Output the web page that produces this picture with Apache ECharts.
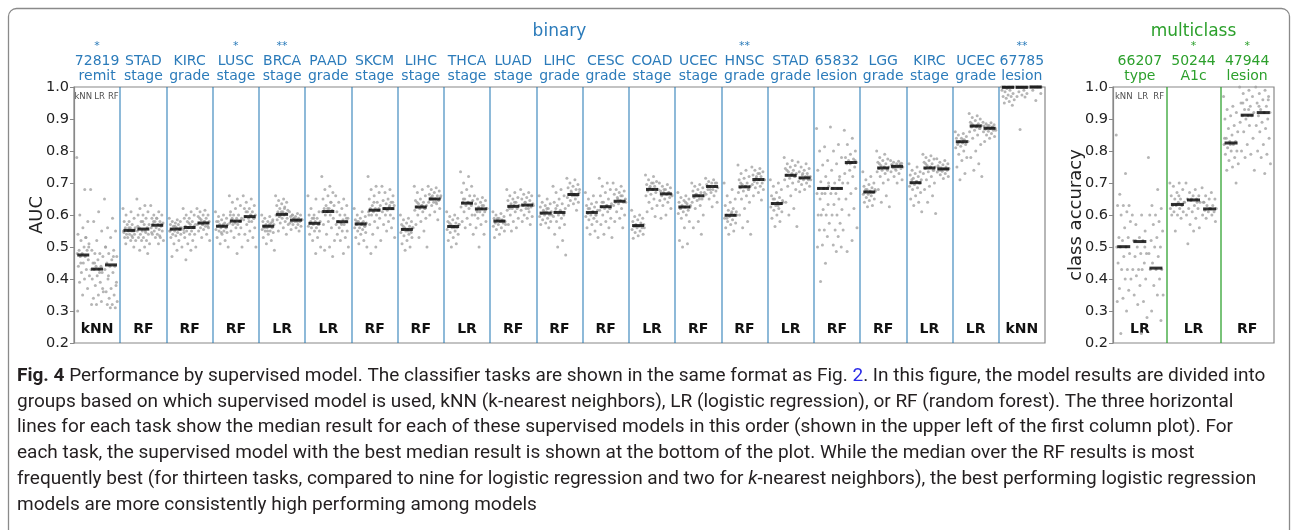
<!DOCTYPE html>
<html><head><meta charset="utf-8">
<script src="https://cdn.jsdelivr.net/npm/echarts@6/dist/echarts.min.js"></script>
<style>html,body{margin:0;padding:0;background:#fff}#c{width:1293px;height:530px}</style>
</head><body><div id="c"></div>
<script>
// ---------- DATA ----------
const binaryTop = ['72819','STAD','KIRC','LUSC','BRCA','PAAD','SKCM','LIHC','THCA','LUAD','LIHC','CESC','COAD','UCEC','HNSC','STAD','65832','LGG','KIRC','UCEC','67785'];
const binaryBottom = ['remit','stage','grade','stage','stage','grade','stage','stage','stage','stage','grade','grade','stage','stage','grade','grade','lesion','grade','stage','grade','lesion'];
const binaryStars = ['*','','','*','**','','','','','','','','','','**','','','','','','**'];
const binaryBest = ['kNN','RF','RF','RF','LR','LR','RF','RF','LR','RF','RF','RF','LR','RF','RF','LR','RF','RF','LR','LR','kNN'];

const binaryMedKNN = [0.475,0.552,0.556,0.565,0.565,0.574,0.572,0.555,0.564,0.581,0.606,0.608,0.567,0.625,0.599,0.636,0.683,0.672,0.701,0.829,0.999];
const binaryMedLR  = [0.431,0.556,0.561,0.581,0.602,0.611,0.615,0.625,0.637,0.627,0.608,0.626,0.680,0.660,0.688,0.724,0.683,0.747,0.747,0.878,0.999];
const binaryMedRF  = [0.444,0.568,0.575,0.595,0.584,0.579,0.620,0.650,0.619,0.631,0.664,0.643,0.666,0.689,0.711,0.716,0.764,0.752,0.744,0.871,1.000];

const binaryKNN = [
[0.78,0.68,0.60,0.58,0.56,0.54,0.53,0.52,0.51,0.50,0.49,0.49,0.48,0.48,0.47,0.47,0.46,0.45,0.44,0.43,0.42,0.41,0.40,0.39,0.37,0.35,0.30,0.53,0.45,0.50],
[0.62,0.61,0.60,0.59,0.58,0.58,0.57,0.57,0.56,0.56,0.56,0.55,0.55,0.55,0.55,0.54,0.54,0.54,0.53,0.53,0.53,0.52,0.52,0.51,0.50,0.56,0.545,0.535],
[0.59,0.585,0.58,0.58,0.575,0.57,0.57,0.565,0.56,0.56,0.555,0.555,0.55,0.55,0.545,0.54,0.54,0.535,0.53,0.52,0.51,0.50,0.49,0.47,0.56,0.565,0.55],
[0.61,0.60,0.595,0.59,0.585,0.58,0.575,0.57,0.57,0.565,0.565,0.56,0.56,0.555,0.55,0.55,0.545,0.54,0.53,0.52,0.51,0.50,0.57,0.58,0.56,0.545],
[0.60,0.595,0.59,0.585,0.58,0.58,0.575,0.57,0.57,0.565,0.565,0.56,0.56,0.555,0.55,0.55,0.545,0.54,0.53,0.52,0.51,0.49,0.57,0.56,0.58,0.55],
[0.66,0.65,0.62,0.61,0.60,0.60,0.59,0.59,0.58,0.58,0.575,0.57,0.57,0.565,0.56,0.56,0.55,0.55,0.54,0.53,0.52,0.50,0.48,0.58,0.57,0.59],
[0.62,0.61,0.60,0.595,0.59,0.585,0.58,0.58,0.575,0.57,0.57,0.565,0.56,0.56,0.555,0.55,0.545,0.54,0.53,0.52,0.51,0.50,0.575,0.58,0.565],
[0.60,0.59,0.585,0.58,0.575,0.57,0.565,0.56,0.56,0.555,0.555,0.55,0.55,0.545,0.54,0.535,0.53,0.52,0.51,0.50,0.49,0.56,0.55,0.565,0.545],
[0.61,0.60,0.595,0.59,0.585,0.58,0.575,0.57,0.57,0.565,0.565,0.56,0.56,0.555,0.55,0.545,0.54,0.53,0.52,0.51,0.50,0.57,0.56,0.575],
[0.61,0.605,0.60,0.595,0.59,0.59,0.585,0.585,0.58,0.58,0.575,0.575,0.57,0.565,0.56,0.555,0.55,0.54,0.53,0.58,0.59,0.57],
[0.66,0.65,0.64,0.635,0.63,0.625,0.62,0.615,0.61,0.61,0.605,0.60,0.60,0.595,0.59,0.585,0.58,0.575,0.57,0.56,0.61,0.60,0.62],
[0.67,0.66,0.65,0.64,0.635,0.63,0.625,0.62,0.615,0.61,0.605,0.60,0.60,0.595,0.59,0.585,0.58,0.57,0.56,0.55,0.54,0.53,0.61,0.62,0.60],
[0.615,0.60,0.595,0.59,0.585,0.58,0.575,0.57,0.57,0.565,0.565,0.56,0.56,0.555,0.55,0.545,0.54,0.535,0.527,0.57,0.565,0.56],
[0.67,0.66,0.655,0.65,0.645,0.64,0.635,0.63,0.625,0.625,0.62,0.615,0.61,0.605,0.60,0.59,0.58,0.56,0.52,0.51,0.50,0.63,0.64,0.62],
[0.70,0.68,0.66,0.65,0.64,0.63,0.62,0.615,0.61,0.605,0.60,0.60,0.595,0.59,0.585,0.58,0.575,0.57,0.56,0.55,0.54,0.60,0.61,0.59],
[0.71,0.70,0.69,0.68,0.67,0.66,0.655,0.65,0.645,0.64,0.635,0.635,0.63,0.625,0.62,0.615,0.61,0.60,0.59,0.58,0.564,0.64,0.63,0.65],
[0.87,0.813,0.80,0.77,0.756,0.74,0.72,0.704,0.69,0.683,0.683,0.683,0.667,0.667,0.667,0.65,0.633,0.617,0.60,0.60,0.60,0.574,0.553,0.553,0.533,0.506,0.50,0.449,0.392,0.70,0.683],
[0.735,0.72,0.71,0.70,0.695,0.69,0.685,0.68,0.68,0.675,0.672,0.67,0.665,0.665,0.66,0.655,0.65,0.645,0.64,0.63,0.626,0.675,0.67,0.68],
[0.76,0.75,0.74,0.735,0.73,0.725,0.72,0.715,0.71,0.705,0.70,0.70,0.695,0.69,0.685,0.68,0.67,0.66,0.65,0.64,0.63,0.61,0.705,0.71,0.70],
[0.86,0.855,0.85,0.845,0.84,0.84,0.835,0.83,0.83,0.825,0.82,0.82,0.815,0.81,0.80,0.79,0.78,0.77,0.75,0.73,0.71,0.83,0.835,0.825],
[1,1,1,1,1,1,1,1,1,1,1,1,0.995,0.99,0.99,0.985,0.98,0.975,0.97,0.97,0.965,0.96,0.955,0.95,0.943]
];
const binaryLR = [
[0.68,0.61,0.58,0.55,0.52,0.49,0.48,0.48,0.47,0.46,0.45,0.44,0.44,0.43,0.43,0.43,0.42,0.41,0.40,0.39,0.38,0.36,0.35,0.34,0.33,0.32,0.32,0.42,0.45,0.37],
[0.65,0.63,0.62,0.61,0.60,0.60,0.59,0.58,0.57,0.57,0.56,0.56,0.55,0.55,0.55,0.54,0.54,0.53,0.53,0.52,0.52,0.51,0.50,0.49,0.48,0.58,0.565,0.545],
[0.62,0.61,0.60,0.60,0.59,0.59,0.58,0.58,0.57,0.57,0.565,0.56,0.56,0.555,0.55,0.55,0.54,0.54,0.53,0.52,0.51,0.50,0.49,0.46,0.565,0.575,0.545],
[0.66,0.65,0.64,0.63,0.62,0.61,0.60,0.60,0.59,0.59,0.585,0.58,0.58,0.575,0.57,0.57,0.56,0.56,0.55,0.54,0.53,0.50,0.48,0.59,0.58,0.575,0.60],
[0.66,0.65,0.645,0.64,0.635,0.63,0.625,0.62,0.615,0.61,0.61,0.605,0.60,0.60,0.60,0.595,0.59,0.59,0.585,0.58,0.575,0.57,0.56,0.55,0.54,0.61,0.60,0.62,0.595],
[0.72,0.69,0.68,0.67,0.66,0.65,0.64,0.63,0.63,0.62,0.62,0.615,0.61,0.61,0.60,0.60,0.59,0.58,0.57,0.56,0.54,0.52,0.50,0.49,0.47,0.62,0.61,0.64],
[0.72,0.69,0.68,0.67,0.66,0.65,0.64,0.63,0.63,0.62,0.62,0.615,0.61,0.61,0.60,0.60,0.59,0.58,0.57,0.56,0.54,0.52,0.50,0.48,0.62,0.64,0.60],
[0.69,0.68,0.67,0.66,0.65,0.645,0.64,0.635,0.63,0.63,0.625,0.62,0.62,0.615,0.61,0.60,0.59,0.58,0.57,0.55,0.53,0.50,0.63,0.64,0.62],
[0.735,0.72,0.70,0.69,0.68,0.67,0.66,0.65,0.645,0.64,0.64,0.635,0.63,0.625,0.62,0.61,0.60,0.59,0.58,0.57,0.56,0.54,0.64,0.65,0.63],
[0.68,0.67,0.66,0.655,0.65,0.645,0.64,0.635,0.63,0.63,0.625,0.62,0.62,0.615,0.61,0.60,0.59,0.58,0.57,0.56,0.55,0.63,0.64,0.62],
[0.69,0.68,0.67,0.66,0.65,0.64,0.635,0.63,0.62,0.615,0.61,0.605,0.60,0.595,0.59,0.58,0.57,0.56,0.54,0.52,0.50,0.475,0.61,0.62,0.60],
[0.715,0.70,0.69,0.68,0.67,0.66,0.65,0.64,0.635,0.63,0.625,0.62,0.62,0.615,0.61,0.60,0.59,0.58,0.57,0.56,0.54,0.53,0.63,0.64,0.62],
[0.725,0.72,0.71,0.705,0.70,0.695,0.69,0.685,0.68,0.68,0.675,0.67,0.665,0.66,0.65,0.64,0.63,0.62,0.61,0.595,0.69,0.68,0.70],
[0.70,0.695,0.69,0.685,0.68,0.675,0.67,0.665,0.66,0.66,0.655,0.65,0.645,0.64,0.63,0.62,0.60,0.58,0.56,0.54,0.665,0.67,0.65],
[0.756,0.74,0.73,0.72,0.715,0.71,0.70,0.695,0.69,0.69,0.685,0.68,0.675,0.67,0.66,0.65,0.64,0.62,0.60,0.58,0.56,0.54,0.69,0.70,0.68],
[0.78,0.77,0.76,0.755,0.75,0.745,0.74,0.735,0.73,0.725,0.725,0.72,0.715,0.71,0.70,0.69,0.68,0.66,0.64,0.62,0.60,0.564,0.73,0.74,0.72],
[0.875,0.82,0.80,0.78,0.76,0.74,0.72,0.70,0.70,0.683,0.683,0.683,0.667,0.667,0.65,0.633,0.617,0.60,0.60,0.574,0.553,0.553,0.533,0.506,0.50,0.486,0.683,0.71],
[0.80,0.79,0.78,0.775,0.77,0.765,0.76,0.755,0.75,0.75,0.745,0.745,0.74,0.735,0.73,0.72,0.71,0.70,0.68,0.66,0.64,0.626,0.75,0.76,0.74],
[0.79,0.785,0.78,0.775,0.77,0.765,0.76,0.755,0.75,0.75,0.745,0.74,0.735,0.73,0.72,0.71,0.70,0.69,0.68,0.66,0.64,0.605,0.75,0.76,0.74],
[0.917,0.91,0.905,0.90,0.895,0.89,0.885,0.88,0.88,0.875,0.875,0.87,0.865,0.86,0.85,0.84,0.82,0.80,0.78,0.76,0.74,0.72,0.88,0.885,0.87],
[1,1,1,1,1,1,1,1,1,1,1,1,1,1,0.99,0.985,0.98,0.975,0.97,0.969,0.867]
];
const binaryRF = [
[0.65,0.59,0.56,0.55,0.53,0.50,0.49,0.48,0.47,0.46,0.45,0.44,0.44,0.43,0.42,0.40,0.38,0.37,0.36,0.35,0.34,0.33,0.32,0.32,0.31,0.31,0.50,0.47,0.41,0.39],
[0.63,0.61,0.60,0.60,0.59,0.59,0.58,0.58,0.575,0.57,0.57,0.565,0.56,0.56,0.555,0.55,0.55,0.54,0.54,0.53,0.53,0.52,0.51,0.58,0.57,0.59,0.545,0.535],
[0.62,0.615,0.61,0.60,0.60,0.595,0.59,0.585,0.58,0.58,0.575,0.575,0.57,0.57,0.565,0.56,0.56,0.555,0.55,0.54,0.53,0.52,0.58,0.59,0.565,0.57],
[0.66,0.65,0.64,0.63,0.62,0.62,0.61,0.61,0.60,0.60,0.595,0.59,0.59,0.585,0.58,0.57,0.56,0.55,0.54,0.53,0.52,0.50,0.60,0.61,0.59,0.58],
[0.61,0.605,0.60,0.60,0.595,0.595,0.59,0.59,0.585,0.585,0.58,0.58,0.58,0.575,0.57,0.57,0.565,0.56,0.555,0.55,0.59,0.585,0.58,0.60],
[0.66,0.65,0.64,0.63,0.62,0.61,0.60,0.60,0.59,0.585,0.58,0.58,0.575,0.57,0.57,0.56,0.55,0.55,0.54,0.53,0.52,0.50,0.48,0.58,0.59,0.57],
[0.69,0.68,0.67,0.66,0.65,0.645,0.64,0.635,0.63,0.625,0.62,0.62,0.615,0.61,0.60,0.60,0.59,0.58,0.57,0.56,0.55,0.53,0.63,0.62,0.64],
[0.69,0.685,0.68,0.675,0.67,0.665,0.66,0.66,0.655,0.65,0.65,0.645,0.64,0.64,0.635,0.63,0.62,0.61,0.60,0.585,0.65,0.66,0.64,0.655],
[0.66,0.655,0.65,0.645,0.64,0.635,0.63,0.625,0.62,0.62,0.615,0.61,0.61,0.60,0.60,0.59,0.58,0.57,0.56,0.54,0.50,0.62,0.63,0.61],
[0.68,0.67,0.665,0.66,0.655,0.65,0.645,0.64,0.635,0.63,0.63,0.625,0.62,0.615,0.61,0.60,0.595,0.59,0.58,0.57,0.64,0.63,0.62],
[0.715,0.71,0.70,0.695,0.69,0.685,0.68,0.675,0.67,0.665,0.665,0.66,0.66,0.655,0.65,0.645,0.64,0.635,0.63,0.615,0.67,0.68,0.66],
[0.70,0.69,0.68,0.675,0.67,0.665,0.66,0.655,0.65,0.645,0.64,0.64,0.635,0.63,0.62,0.61,0.60,0.59,0.58,0.56,0.65,0.64,0.66],
[0.70,0.695,0.69,0.685,0.68,0.675,0.67,0.67,0.665,0.665,0.66,0.655,0.65,0.645,0.64,0.63,0.62,0.60,0.59,0.67,0.68,0.66],
[0.715,0.71,0.705,0.70,0.70,0.695,0.69,0.69,0.685,0.68,0.68,0.675,0.67,0.665,0.66,0.65,0.64,0.626,0.69,0.70,0.68],
[0.75,0.745,0.74,0.735,0.73,0.725,0.72,0.715,0.71,0.71,0.705,0.70,0.70,0.695,0.69,0.685,0.68,0.67,0.66,0.647,0.72,0.71,0.73],
[0.766,0.76,0.75,0.745,0.74,0.735,0.73,0.725,0.72,0.72,0.715,0.71,0.71,0.705,0.70,0.695,0.69,0.68,0.673,0.72,0.73,0.71],
[0.865,0.84,0.82,0.80,0.79,0.78,0.775,0.77,0.765,0.764,0.76,0.75,0.74,0.73,0.72,0.70,0.683,0.667,0.65,0.62,0.60,0.56,0.52,0.486,0.77,0.76],
[0.77,0.768,0.765,0.762,0.76,0.758,0.755,0.752,0.75,0.75,0.748,0.745,0.74,0.735,0.73,0.72,0.71,0.70,0.755,0.76,0.745],
[0.776,0.77,0.765,0.76,0.757,0.754,0.75,0.748,0.745,0.744,0.74,0.74,0.737,0.734,0.73,0.726,0.72,0.714,0.75,0.745,0.74],
[0.89,0.888,0.885,0.882,0.88,0.878,0.875,0.873,0.871,0.87,0.868,0.865,0.862,0.86,0.855,0.85,0.845,0.84,0.83,0.875,0.88,0.865],
[1,1,1,1,1,1,1,1,1,1,1,1,1,1,1,0.99,0.98,0.958]
];

const multiTop = ['66207','50244','47944'];
const multiBottom = ['type','A1c','lesion'];
const multiStars = ['','*','*'];
const multiBest = ['LR','LR','RF'];
const multiMedKNN = [0.501,0.633,0.825];
const multiMedLR  = [0.517,0.647,0.912];
const multiMedRF  = [0.434,0.619,0.920];
const multiKNN = [
[0.85,0.73,0.665,0.63,0.63,0.63,0.61,0.60,0.58,0.56,0.53,0.53,0.52,0.50,0.50,0.50,0.48,0.47,0.45,0.43,0.43,0.40,0.40,0.37,0.365,0.34,0.33,0.30,0.23],
[0.70,0.70,0.69,0.68,0.67,0.66,0.65,0.65,0.64,0.64,0.63,0.63,0.63,0.62,0.62,0.61,0.61,0.60,0.60,0.59,0.55,0.64,0.66],
[0.97,0.94,0.93,0.92,0.91,0.90,0.88,0.87,0.86,0.85,0.84,0.83,0.83,0.82,0.82,0.81,0.80,0.80,0.79,0.78,0.77,0.76,0.75,0.74,0.70,0.82,0.84]
];
const multiLR = [
[0.60,0.60,0.57,0.55,0.53,0.52,0.52,0.50,0.48,0.48,0.47,0.45,0.43,0.43,0.43,0.41,0.40,0.38,0.35,0.33,0.32,0.28,0.23,0.52,0.50],
[0.70,0.68,0.67,0.66,0.66,0.65,0.65,0.645,0.64,0.63,0.62,0.62,0.61,0.60,0.59,0.57,0.56,0.55,0.51,0.64,0.65],
[1.0,0.99,0.98,0.97,0.96,0.95,0.94,0.93,0.92,0.91,0.91,0.91,0.90,0.89,0.88,0.86,0.84,0.82,0.80,0.79,0.78,0.74,0.93,0.95]
];
const multiRF = [
[0.78,0.68,0.63,0.62,0.60,0.60,0.58,0.57,0.55,0.53,0.52,0.50,0.50,0.48,0.47,0.45,0.43,0.43,0.43,0.40,0.38,0.35,0.35,0.30,0.27],
[0.685,0.67,0.66,0.65,0.65,0.64,0.63,0.63,0.62,0.62,0.615,0.61,0.61,0.60,0.60,0.59,0.58,0.62,0.64],
[1.0,0.99,0.98,0.97,0.96,0.95,0.94,0.93,0.92,0.92,0.91,0.90,0.89,0.88,0.87,0.86,0.84,0.82,0.80,0.79,0.78,0.76,0.73,0.94,0.96]
];
const modelNames = ['kNN','LR','RF'];

const captionLines = [
  ['{b|Fig. 4}{n| Performance by supervised model. The classifier tasks are shown in the same format as Fig. }{l|2}{n|. In this figure, the model results are divided into}'],
  ['{n|groups based on which supervised model is used, kNN (k-nearest neighbors), LR (logistic regression), or RF (random forest). The three horizontal}'],
  ['{n|lines for each task show the median result for each of these supervised models in this order (shown in the upper left of the first column plot). For}'],
  ['{n|each task, the supervised model with the best median result is shown at the bottom of the plot. While the median over the RF results is most}'],
  ['{n|frequently best (for thirteen tasks, compared to nine for logistic regression and two for }{i|k}{n|-nearest neighbors), the best performing logistic regression}'],
  ['{n|models are more consistently high performing among models}']
];

// ---------- BUILD ----------
const BLUE = '#2b7bba', GREEN = '#2ca02c';
const FONT = 'DejaVu Sans';
const jit = k => (((k * 0.6180339) % 1) - 0.5) * 0.28;
const labelPos = [0.2, 0.555, 0.85];

function dots(groups) {
  const pts = [];
  groups.forEach((g, gi) => g.forEach((arr, c) => arr.forEach((v, k) => pts.push([c + 0.2 + 0.3 * gi + jit(k), v]))));
  return pts;
}
function meds(groups) {
  const pts = [];
  groups.forEach((m, gi) => m.forEach((v, c) => pts.push([c + 0.2 + 0.3 * gi, v])));
  return pts;
}
function headerLabel(tops, bottoms, stars, color) {
  return {
    interval: 0, margin: 3,
    formatter: (v, i) => '{s|' + (stars[i] || ' ') + '}\n{a|' + tops[i] + '}\n{a|' + bottoms[i] + '}',
    rich: {
      s: { fontSize: 11, lineHeight: 15, color: color, fontFamily: FONT, align: 'center' },
      a: { fontSize: 14, lineHeight: 15, color: color, fontFamily: FONT, align: 'center' }
    }
  };
}
function yAxis(gi, name) {
  return {
    gridIndex: gi, type: 'value', min: 0.2, max: 1.0, interval: 0.1,
    axisLine: { show: true, lineStyle: { color: '#888', width: 1.2 } },
    axisTick: { show: true, length: 4, lineStyle: { color: '#888' } },
    splitLine: { show: false },
    axisLabel: { formatter: v => v.toFixed(1), fontSize: 14.5, color: '#222', fontFamily: FONT, margin: 5 },
    name: name, nameLocation: 'middle', nameGap: 28, nameMoveOverlap: false,
    nameTextStyle: { fontSize: 18, color: '#222', fontFamily: FONT }
  };
}
function sepLine(n, color) {
  const d = [];
  for (let i = 1; i < n; i++) d.push({ xAxis: i });
  return { silent: true, symbol: ['none', 'none'], label: { show: false }, animation: false,
    lineStyle: { color: color, width: 1.7, type: 'solid' }, emphasis: { disabled: true }, data: d };
}
function modelLabels() {
  return modelNames.map((m, i) => ({ value: [labelPos[i], 0.970], name: m }));
}

const option = {
  animation: false,
  title: [
    { text: 'binary', left: 559.5, top: 23, textAlign: 'center', padding: 0,
      textStyle: { fontSize: 17, fontWeight: 'normal', color: BLUE, fontFamily: FONT } },
    { text: 'multiclass', left: 1193.5, top: 23, textAlign: 'center', padding: 0,
      textStyle: { fontSize: 17, fontWeight: 'normal', color: GREEN, fontFamily: FONT } }
  ],
  grid: [
    { left: 74, top: 87, width: 971, height: 256, show: true, borderColor: '#888', borderWidth: 1.2, backgroundColor: 'transparent', containLabel: false, outerBoundsMode: 'none' },
    { left: 1113, top: 87, width: 161, height: 256, show: true, borderColor: '#888', borderWidth: 1.2, backgroundColor: 'transparent', containLabel: false, outerBoundsMode: 'none' }
  ],
  xAxis: [
    { gridIndex: 0, type: 'value', min: 0, max: binaryTop.length, show: false },
    { gridIndex: 0, type: 'category', position: 'top', data: binaryTop.map((t, i) => String(i)),
      axisLine: { show: false }, axisTick: { show: false }, splitLine: { show: false },
      axisLabel: headerLabel(binaryTop, binaryBottom, binaryStars, BLUE) },
    { gridIndex: 0, type: 'category', position: 'bottom', data: binaryBest,
      axisLine: { show: false }, axisTick: { show: false }, splitLine: { show: false },
      axisLabel: { inside: true, interval: 0, margin: 7, fontSize: 14, fontWeight: 'bold', color: '#111', fontFamily: FONT } },
    { gridIndex: 1, type: 'value', min: 0, max: multiTop.length, show: false },
    { gridIndex: 1, type: 'category', position: 'top', data: multiTop.map((t, i) => String(i)),
      axisLine: { show: false }, axisTick: { show: false }, splitLine: { show: false },
      axisLabel: headerLabel(multiTop, multiBottom, multiStars, GREEN) },
    { gridIndex: 1, type: 'category', position: 'bottom', data: multiBest,
      axisLine: { show: false }, axisTick: { show: false }, splitLine: { show: false },
      axisLabel: { inside: true, interval: 0, margin: 7, fontSize: 14, fontWeight: 'bold', color: '#111', fontFamily: FONT } }
  ],
  yAxis: [ yAxis(0, 'AUC'), yAxis(1, 'class accuracy') ],
  series: [
    { type: 'scatter', xAxisIndex: 0, yAxisIndex: 0, symbolSize: 3, clip: false, silent: true,
      itemStyle: { color: '#a3a3a3' }, data: dots([binaryKNN, binaryLR, binaryRF]),
      markLine: sepLine(binaryTop.length, 'rgba(31,119,180,0.6)') },
    { type: 'scatter', xAxisIndex: 0, yAxisIndex: 0, symbol: 'rect', symbolSize: [12, 3], clip: false, silent: true, z: 5,
      itemStyle: { color: '#000' }, data: meds([binaryMedKNN, binaryMedLR, binaryMedRF]) },
    { type: 'scatter', xAxisIndex: 0, yAxisIndex: 0, symbolSize: 0, silent: true, z: 6,
      label: { show: true, position: 'inside', formatter: '{b}', fontSize: 8.5, color: '#222', fontFamily: FONT },
      data: modelLabels() },
    { type: 'scatter', xAxisIndex: 3, yAxisIndex: 1, symbolSize: 3, clip: false, silent: true,
      itemStyle: { color: '#a3a3a3' }, data: dots([multiKNN, multiLR, multiRF]),
      markLine: sepLine(multiTop.length, 'rgba(44,160,44,0.75)') },
    { type: 'scatter', xAxisIndex: 3, yAxisIndex: 1, symbol: 'rect', symbolSize: [13, 3], clip: false, silent: true, z: 5,
      itemStyle: { color: '#000' }, data: meds([multiMedKNN, multiMedLR, multiMedRF]) },
    { type: 'scatter', xAxisIndex: 3, yAxisIndex: 1, symbolSize: 0, silent: true, z: 6,
      label: { show: true, position: 'inside', formatter: '{b}', fontSize: 8.5, color: '#222', fontFamily: FONT },
      data: modelLabels() }
  ]
};

// caption font fit
const CAPFAM = 'Roboto';
const ctx = document.createElement('canvas').getContext('2d');
function lineWidth(size) {
  ctx.font = 'bold ' + size + 'px ' + CAPFAM;
  let w = ctx.measureText('Fig. 4').width;
  ctx.font = size + 'px ' + CAPFAM;
  w += ctx.measureText(' Performance by supervised model. The classifier tasks are shown in the same format as Fig. 2. In this figure, the model results are divided into').width;
  return w;
}
const capSize = Math.min(19, 17 * 1255 / lineWidth(17));
const capY = [376, 402, 427.5, 453, 479, 505];
const graphics = [
  { type: 'rect', shape: { x: 8.5, y: 8.5, width: 1281, height: 580, r: 8 }, silent: true,
    style: { fill: 'none', stroke: '#8a8a8a', lineWidth: 1.3 } }
];
captionLines.forEach((l, i) => graphics.push({
  type: 'text', x: 17, y: capY[i], silent: true,
  style: { text: l[0], verticalAlign: 'middle', align: 'left',
    rich: {
      n: { fontSize: capSize, fontFamily: CAPFAM, fill: '#231f20' },
      b: { fontSize: capSize, fontFamily: CAPFAM, fontWeight: 'bold', fill: '#231f20' },
      l: { fontSize: capSize, fontFamily: CAPFAM, fill: '#2a2ae8' },
      i: { fontSize: capSize, fontFamily: CAPFAM, fontStyle: 'italic', fill: '#231f20' }
    } }
}));
option.graphic = { elements: graphics };

const chart = echarts.init(document.getElementById('c'), null, { renderer: 'canvas' });
chart.setOption(option);
</script></body></html>
